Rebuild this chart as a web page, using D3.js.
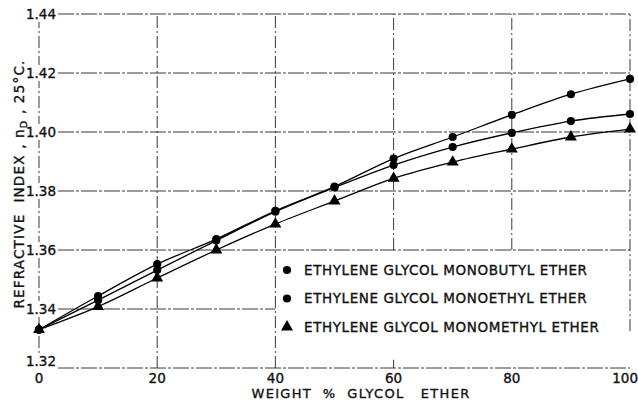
<!DOCTYPE html>
<html>
<head>
<meta charset="utf-8">
<script src="https://cdn.jsdelivr.net/npm/d3@7"></script>
<style>
  body { margin: 0; background: #fff; }
  svg text { font-family: "DejaVu Sans", sans-serif; fill: #111; stroke: #111; stroke-width: 0.35px; }
</style>
</head>
<body>
<div id="chart"></div>
<script>
// weight % glycol ether
var weight = [0, 10, 20, 30, 40, 50, 60, 70, 80, 90, 100];
// refractive index n_D at 25 C
var butyl  = [1.3330, 1.3444, 1.3552, 1.3637, 1.3733, 1.3815, 1.3910, 1.3983, 1.4058, 1.4128, 1.4180];
var ethyl  = [1.3330, 1.3430, 1.3532, 1.3632, 1.3730, 1.3812, 1.3888, 1.3949, 1.3997, 1.4037, 1.4061];
var methyl = [1.3330, 1.3408, 1.3505, 1.3600, 1.3688, 1.3766, 1.3843, 1.3898, 1.3942, 1.3983, 1.4010];

var seriesNames = ["ETHYLENE GLYCOL MONOBUTYL ETHER", "ETHYLENE GLYCOL MONOETHYL ETHER", "ETHYLENE GLYCOL MONOMETHYL ETHER"];
var seriesMarks = ["circle", "circle", "triangle"];

var xTicks = [0, 20, 40, 60, 80, 100];
var yTicks = [1.32, 1.34, 1.36, 1.38, 1.40, 1.42, 1.44];
var yTickLabels = ["1.32", "1.34", "1.36", "1.38", "1.40", "1.42", "1.44"];

var width = 638, height = 401;
var margin = {top: 14, right: 8, bottom: 33, left: 39};

var x = d3.scaleLinear().domain([0, 100]).range([margin.left, width - margin.right]);
var y = d3.scaleLinear().domain([1.32, 1.44]).range([height - margin.bottom, margin.top]);

var svg = d3.select("#chart").append("svg")
    .attr("width", width)
    .attr("height", height);

// grid pieces, the legend sits in a blank area lower right
var hGrid = [
  {v: 1.44, a: 0, b: 100}, {v: 1.42, a: 0, b: 100}, {v: 1.40, a: 0, b: 100},
  {v: 1.38, a: 0, b: 100}, {v: 1.36, a: 0, b: 100}, {v: 1.34, a: 0, b: 40},
  {v: 1.32, a: 0, b: 100}
];
var vGrid = [
  {v: 0, a: 1.32, b: 1.44}, {v: 20, a: 1.32, b: 1.44}, {v: 40, a: 1.32, b: 1.44},
  {v: 60, a: 1.36, b: 1.44}, {v: 60, a: 1.32, b: 1.3228},
  {v: 80, a: 1.36, b: 1.44}, {v: 100, a: 1.3325, b: 1.44}
];

var grid = svg.append("g")
    .attr("stroke", "#222")
    .attr("stroke-width", 0.9)
    .attr("fill", "none");

grid.selectAll(".hg")
  .data(hGrid)
  .enter().append("line")
    .attr("class", "hg")
    .attr("x1", function(d) { return x(d.a) + 19; })
    .attr("x2", function(d) { return x(d.b); })
    .attr("y1", function(d) { return y(d.v); })
    .attr("y2", function(d) { return y(d.v); })
    .attr("stroke-dasharray", "16,2,3,2");

grid.selectAll(".vg")
  .data(vGrid)
  .enter().append("line")
    .attr("class", "vg")
    .attr("x1", function(d) { return x(d.v); })
    .attr("x2", function(d) { return x(d.v); })
    .attr("y1", function(d) { return y(d.a); })
    .attr("y2", function(d) { return y(d.b); })
    .attr("stroke-dasharray", "12,3,2,3");

// y tick labels sit on the axis line, bottom one lifted above the x labels
var yLab = svg.append("g").selectAll("g")
  .data(yTicks)
  .enter().append("g")
    .attr("transform", function(d, i) { return "translate(" + (x(0) + 2) + "," + (y(d) - (i == 0 ? 7 : 0)) + ")"; });
yLab.append("rect")
    .attr("x", -15).attr("y", -8).attr("width", 30).attr("height", 16)
    .attr("fill", "#fff")
    .attr("stroke", "none");
yLab.append("text")
    .attr("text-anchor", "middle")
    .attr("dy", "0.36em")
    .style("font-size", "13.5px")
    .text(function(d, i) { return yTickLabels[i]; });

// x tick labels
svg.append("g").selectAll("text")
  .data(xTicks)
  .enter().append("text")
    .attr("x", function(d) { return d == 100 ? x(d) + 8 : x(d); })
    .attr("y", y(1.32) + 15)
    .attr("text-anchor", function(d) { return d == 100 ? "end" : "middle"; })
    .style("font-size", "13.5px")
    .text(function(d) { return d; });

// axis titles
svg.append("text")
    .attr("x", 361)
    .attr("y", 398)
    .attr("text-anchor", "middle")
    .style("font-size", "13px")
    .style("letter-spacing", "1.3px")
    .attr("xml:space", "preserve")
    .text("WEIGHT  %  GLYCOL   ETHER");

var yt = svg.append("text")
    .attr("transform", "translate(24,184) rotate(-90)")
    .attr("text-anchor", "middle")
    .style("font-size", "13.5px")
    .style("letter-spacing", "1.2px")
    .attr("xml:space", "preserve");
yt.append("tspan").text("REFRACTIVE  INDEX , n");
yt.append("tspan").attr("dy", 3).style("font-size", "9.5px").text("D");
yt.append("tspan").attr("dy", -3).text(" , 25°C.");

// curves
var all = [butyl, ethyl, methyl];
var line = d3.line()
    .x(function(d, i) { return x(weight[i]); })
    .y(function(d) { return y(d); })
    .curve(d3.curveMonotoneX);

svg.append("g").selectAll("path")
  .data(all)
  .enter().append("path")
    .attr("d", line)
    .attr("fill", "none")
    .attr("stroke", "#000")
    .attr("stroke-width", 1.3);

var circle = d3.symbol().type(d3.symbolCircle).size(52);
var tri = d3.symbol().type(d3.symbolTriangle).size(62);

all.forEach(function(s, k) {
  svg.append("g").selectAll("path")
    .data(s)
    .enter().append("path")
      .attr("transform", function(d, i) { return "translate(" + x(weight[i]) + "," + y(d) + ")"; })
      .attr("d", seriesMarks[k] == "triangle" ? tri : circle)
      .attr("fill", "#000");
});

// legend
var leg = svg.append("g").selectAll("g")
  .data(seriesNames)
  .enter().append("g")
    .attr("transform", function(d, i) { return "translate(287," + (270 + i * 28.5) + ")"; });
leg.append("path")
    .attr("d", function(d, i) { return seriesMarks[i] == "triangle" ? tri() : circle(); })
    .attr("fill", "#000");
leg.append("text")
    .attr("x", 17)
    .attr("dy", "0.36em")
    .style("font-size", "13.5px")
    .style("letter-spacing", "0.6px")
    .text(function(d) { return d; });
</script>
</body>
</html>
